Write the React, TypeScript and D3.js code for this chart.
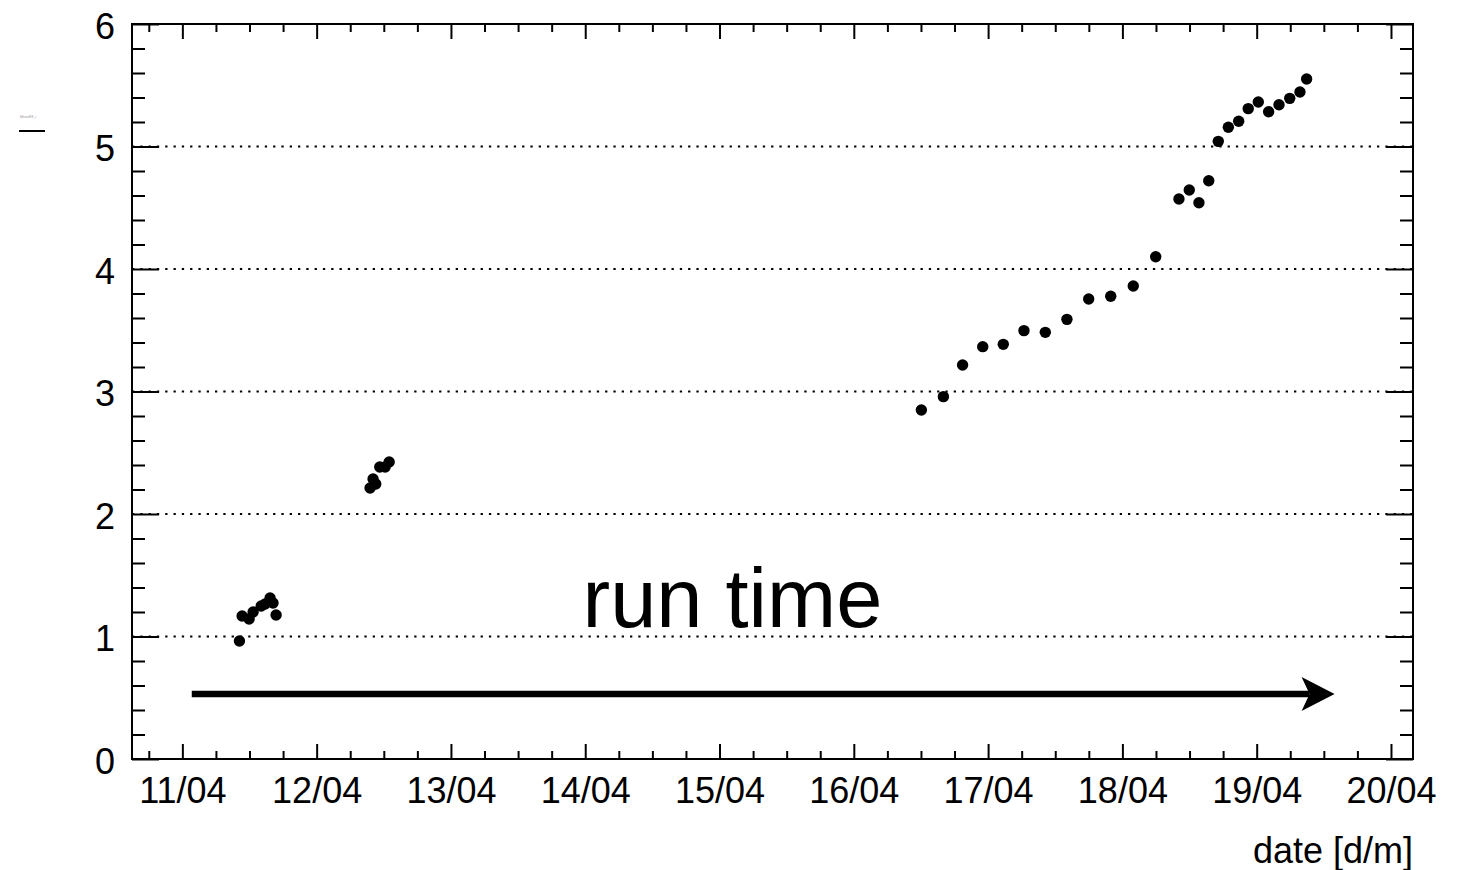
import * as d3 from "d3";
import { useEffect, useRef } from "react";

// day of April (fractional) and measured value
const days = [
  11.425, 11.445, 11.497, 11.527, 11.587, 11.616, 11.653, 11.675, 11.698,
  12.398, 12.42, 12.44, 12.47, 12.51, 12.54,
  16.503, 16.667, 16.81, 16.96, 17.113, 17.267, 17.426, 17.587, 17.749, 17.913, 18.081, 18.248,
  18.421, 18.498, 18.57, 18.643, 18.714, 18.789, 18.866, 18.937, 19.012, 19.089, 19.166, 19.246, 19.322, 19.372,
];
const values = [
  0.963, 1.167, 1.143, 1.2, 1.249, 1.265, 1.314, 1.273, 1.176,
  2.212, 2.286, 2.245, 2.384, 2.384, 2.424,
  2.849, 2.958, 3.216, 3.366, 3.385, 3.497, 3.483, 3.589, 3.755, 3.777, 3.861, 4.1,
  4.571, 4.645, 4.541, 4.721, 5.042, 5.157, 5.206, 5.309, 5.363, 5.284, 5.341, 5.393, 5.445, 5.551,
];
const tickDays = [11, 12, 13, 14, 15, 16, 17, 18, 19, 20];
const tickLabels = ["11/04", "12/04", "13/04", "14/04", "15/04", "16/04", "17/04", "18/04", "19/04", "20/04"];
const yTicks = [0, 1, 2, 3, 4, 5, 6];
const gridValues = [1, 2, 3, 4, 5];
const xTitle = "date [d/m]";
const yTitle = "MeanEff_r";
const noteText = "run time";

const W = 1463, H = 870;
const FONT = "'Liberation Sans', Arial, Helvetica, sans-serif";

export default function App() {
  const ref = useRef<SVGSVGElement>(null);

  useEffect(() => {
    const svg = d3.select(ref.current);
    svg.selectAll("*").remove();

    const left = 132, right = 1413, top = 24, bottom = 759;
    const x = d3.scaleLinear().domain([10.625, 20.164]).range([left, right]);
    const y = d3.scaleLinear().domain([0, 6]).range([bottom, top]);

    const xMinor = d3.range(10.75, 20.2, 0.25).filter(d => Math.abs(d - Math.round(d)) > 0.01 && d < 20.164);
    const yMinor = d3.range(0.2, 6, 0.2).filter(d => Math.abs(d - Math.round(d)) > 0.01);

    // grid
    svg.append("g").selectAll("line").data(gridValues).join("line")
      .attr("x1", left).attr("x2", right)
      .attr("y1", d => y(d)).attr("y2", d => y(d))
      .attr("stroke", "#000").attr("stroke-width", 2)
      .attr("stroke-dasharray", "2.3,6");

    const styleAxis = (g: any) => {
      g.select(".domain").remove();
      g.selectAll("line").attr("stroke", "#000").attr("stroke-width", 2);
      g.selectAll("text").attr("font-family", FONT).attr("font-size", 36).attr("fill", "#000");
    };

    // bottom axis
    svg.append("g").attr("transform", `translate(0,${bottom})`)
      .call(d3.axisBottom(x).tickValues(tickDays).tickSize(-15).tickPadding(18)
        .tickFormat((d, i) => tickLabels[i]))
      .call(styleAxis);
    svg.append("g").attr("transform", `translate(0,${bottom})`)
      .call(d3.axisBottom(x).tickValues(xMinor).tickSize(-8).tickFormat(() => ""))
      .call(styleAxis);
    // top axis
    svg.append("g").attr("transform", `translate(0,${top})`)
      .call(d3.axisTop(x).tickValues(tickDays).tickSize(-15).tickFormat(() => ""))
      .call(styleAxis);
    svg.append("g").attr("transform", `translate(0,${top})`)
      .call(d3.axisTop(x).tickValues(xMinor).tickSize(-8).tickFormat(() => ""))
      .call(styleAxis);
    // left axis
    const yl = svg.append("g").attr("transform", `translate(${left},0)`)
      .call(d3.axisLeft(y).tickValues(yTicks).tickSize(-27).tickPadding(17).tickFormat(d3.format("d")))
      .call(styleAxis);
    yl.selectAll("text").attr("dy", "0.4em");
    svg.append("g").attr("transform", `translate(${left},0)`)
      .call(d3.axisLeft(y).tickValues(yMinor).tickSize(-13).tickFormat(() => ""))
      .call(styleAxis);
    // right axis
    svg.append("g").attr("transform", `translate(${right},0)`)
      .call(d3.axisRight(y).tickValues(yTicks).tickSize(-27).tickFormat(() => ""))
      .call(styleAxis);
    svg.append("g").attr("transform", `translate(${right},0)`)
      .call(d3.axisRight(y).tickValues(yMinor).tickSize(-13).tickFormat(() => ""))
      .call(styleAxis);

    // frame
    svg.append("rect")
      .attr("x", left).attr("y", top)
      .attr("width", right - left).attr("height", bottom - top)
      .attr("fill", "none").attr("stroke", "#000").attr("stroke-width", 2);

    // points
    svg.append("g").selectAll("circle").data(days).join("circle")
      .attr("cx", d => x(d)).attr("cy", (d, i) => y(values[i]))
      .attr("r", 5.7).attr("fill", "#000");

    // arrow annotation
    const ay = y(0.53);
    const ax0 = x(11.07), ax1 = x(19.58);
    svg.append("line")
      .attr("x1", ax0).attr("x2", ax1 - 25).attr("y1", ay).attr("y2", ay)
      .attr("stroke", "#000").attr("stroke-width", 6.5);
    svg.append("path")
      .attr("d", `M${ax1},${ay} L${ax1 - 33},${ay - 17} L${ax1 - 25},${ay} L${ax1 - 33},${ay + 17} Z`)
      .attr("fill", "#000");

    svg.append("text")
      .attr("x", x(13.98)).attr("y", y(1.078))
      .attr("font-family", FONT).attr("font-size", 83).attr("fill", "#000")
      .text(noteText);

    // axis titles
    svg.append("text")
      .attr("x", right).attr("y", 863).attr("text-anchor", "end")
      .attr("font-family", FONT).attr("font-size", 36).attr("fill", "#000")
      .text(xTitle);
    svg.append("text")
      .attr("x", 20).attr("y", 118)
      .attr("font-family", FONT).attr("font-size", 3.6).attr("fill", "#999")
      .text(yTitle);
    svg.append("line")
      .attr("x1", 19).attr("x2", 45).attr("y1", 131).attr("y2", 131)
      .attr("stroke", "#000").attr("stroke-width", 2);
  }, []);

  return (
    <svg ref={ref} width={W} height={H}
      style={{ position: "absolute", left: 0, top: 0, background: "#fff" }} />
  );
}
